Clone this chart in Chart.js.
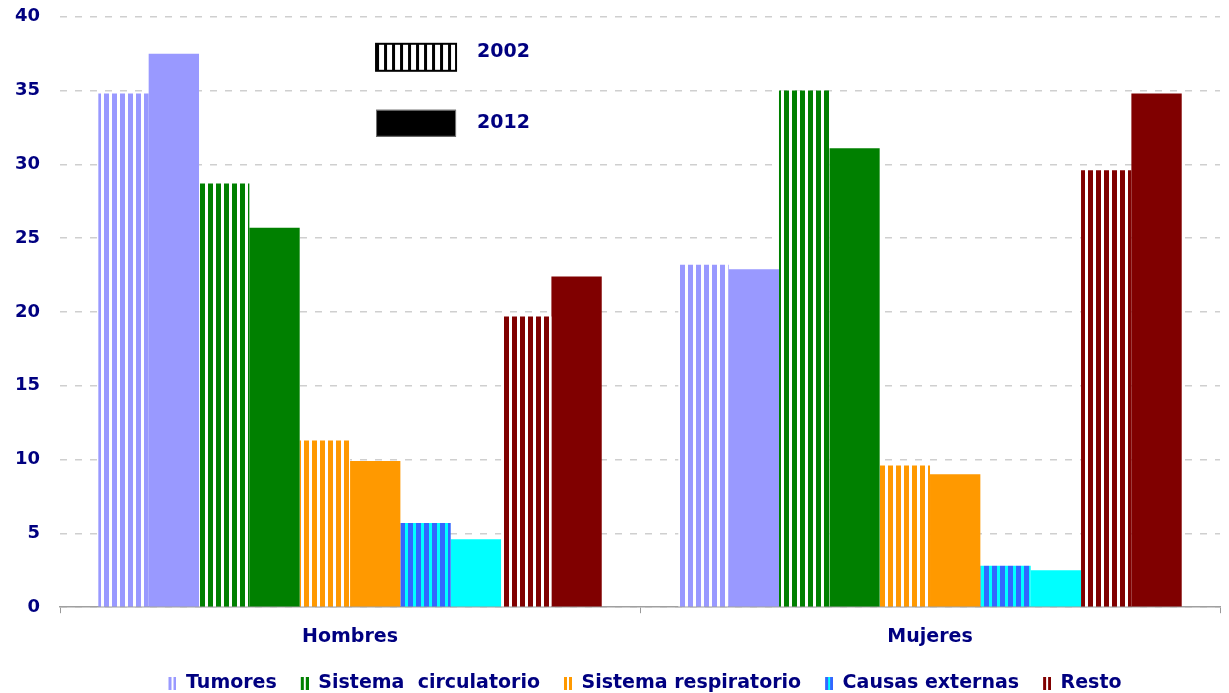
<!DOCTYPE html>
<html>
<head>
<meta charset="utf-8">
<script src="https://cdn.jsdelivr.net/npm/chart.js@4"></script>
<style>
    html, body { margin: 0; padding: 0; background: #fff; }
</style>
</head>
<body>
<canvas id="chart" width="1229" height="693"></canvas>
<script>
// Data
const groups = ['Hombres', 'Mujeres'];
const causes = ['Tumores', 'Sistema  circulatorio', 'Sistema respiratorio', 'Causas externas', 'Resto'];
const years = ['2002', '2012'];

const tumores2002 = [34.8, 23.2];
const tumores2012 = [37.5, 22.9];
const circulatorio2002 = [28.7, 35.0];
const circulatorio2012 = [25.7, 31.1];
const respiratorio2002 = [11.3, 9.6];
const respiratorio2012 = [9.9, 9.0];
const externas2002 = [5.7, 2.8];
const externas2012 = [4.6, 2.5];
const resto2002 = [19.7, 29.6];
const resto2012 = [22.4, 34.8];

const values2002 = [tumores2002, circulatorio2002, respiratorio2002, externas2002, resto2002];
const values2012 = [tumores2012, circulatorio2012, respiratorio2012, externas2012, resto2012];

// Styles
const NAVY = '#000080';
const FONT = 'Verdana, "DejaVu Sans", sans-serif';
const solidColors = ['#9999FF', '#008000', '#FF9900', '#00FFFF', '#800000'];
const stripeColors = ['#9999FF', '#008000', '#FF9900', '#3366FF', '#800000'];
const stripeBacks = ['#FFFFFF', '#FFFFFF', '#FFFFFF', '#00FFFF', '#FFFFFF'];

const ctx = document.getElementById('chart').getContext('2d');

function stripePattern(fg, bg, w, period) {
    const c = document.createElement('canvas');
    c.width = period; c.height = 8;
    const g = c.getContext('2d');
    g.fillStyle = bg; g.fillRect(0, 0, period, 8);
    g.fillStyle = fg; g.fillRect(0, 0, w, 8);
    return ctx.createPattern(c, 'repeat');
}

// legend icon: blank on the left so items get some extra room between them
function legendIcon(fg, bg) {
    const c = document.createElement('canvas');
    c.width = 18; c.height = 13;
    const g = c.getContext('2d');
    g.fillStyle = bg; g.fillRect(10, 0, 8, 13);
    g.fillStyle = fg;
    g.fillRect(10, 0, 3, 13);
    g.fillRect(15, 0, 3, 13);
    return c;
}

const datasets = [];
causes.forEach((name, i) => {
    datasets.push({
        label: name + ' ' + years[0],
        data: values2002[i],
        backgroundColor: stripePattern(stripeColors[i], stripeBacks[i], 5, 8),
        icon: legendIcon(stripeColors[i], stripeBacks[i]),
        cause: name
    });
    datasets.push({
        label: name + ' ' + years[1],
        data: values2012[i],
        backgroundColor: solidColors[i]
    });
});

// Year key drawn in the upper part of the plot
const yearKey = {
    id: 'yearKey',
    afterDraw(chart) {
        const c = chart.ctx;
        const x = chart.chartArea.left + 316;
        const y1 = chart.chartArea.top + 27;
        const y2 = chart.chartArea.top + 93;
        c.save();
        // 2002: black / white stripes
        c.fillStyle = '#fff';
        c.fillRect(x, y1, 80, 27);
        c.fillStyle = '#000';
        for (let sx = x; sx < x + 80; sx += 8) c.fillRect(sx, y1, 3, 27);
        c.strokeStyle = '#000';
        c.lineWidth = 2;
        c.strokeRect(x, y1, 80, 27);
        // 2012: solid black
        c.fillStyle = '#000';
        c.fillRect(x, y2, 80, 27);
        c.strokeStyle = '#777';
        c.lineWidth = 1;
        c.strokeRect(x + 0.5, y2 + 0.5, 79, 26);

        c.fillStyle = NAVY;
        c.font = 'bold 19px ' + FONT;
        c.textBaseline = 'middle';
        c.fillText(years[0], x + 101, y1 + 8);
        c.fillText(years[1], x + 101, y2 + 13);
        c.restore();
    }
};

new Chart(ctx, {
    type: 'bar',
    data: { labels: groups, datasets: datasets },
    options: {
        responsive: false,
        animation: false,
        layout: { padding: { left: 9, right: 9, top: 0, bottom: -10 } },
        datasets: {
            bar: { categoryPercentage: 0.868, barPercentage: 1.0, borderWidth: 0 }
        },
        scales: {
            x: {
                grid: { drawOnChartArea: false, tickLength: 6, color: '#999', offset: true },
                border: { color: '#a0a0a0', width: 1.5 },
                ticks: { color: NAVY, font: { family: FONT, size: 19, weight: 'bold' }, padding: 12 }
            },
            y: {
                min: 0, max: 40,
                grid: { drawTicks: true, tickLength: 14, tickColor: 'transparent', color: '#cfcfcf', lineWidth: 1.5 },
                border: { display: false, dash: [7, 8] },
                ticks: { stepSize: 5, color: NAVY, font: { family: FONT, size: 18, weight: 'bold' }, padding: 6 }
            }
        },
        plugins: {
            tooltip: { enabled: false },
            legend: {
                position: 'bottom',
                fullSize: false,
                labels: {
                    usePointStyle: true,
                    boxWidth: 18,
                    boxHeight: 13,
                    padding: 14,
                    color: NAVY,
                    font: { family: FONT, size: 19, weight: 'bold' },
                    generateLabels: (chart) => chart.data.datasets
                        .filter(d => d.cause)
                        .map(d => ({
                            text: d.cause,
                            pointStyle: d.icon,
                            fillStyle: 'transparent',
                            strokeStyle: 'transparent',
                            lineWidth: 0,
                            hidden: false,
                            fontColor: NAVY
                        }))
                }
            }
        }
    },
    plugins: [yearKey]
});
</script>
</body>
</html>
